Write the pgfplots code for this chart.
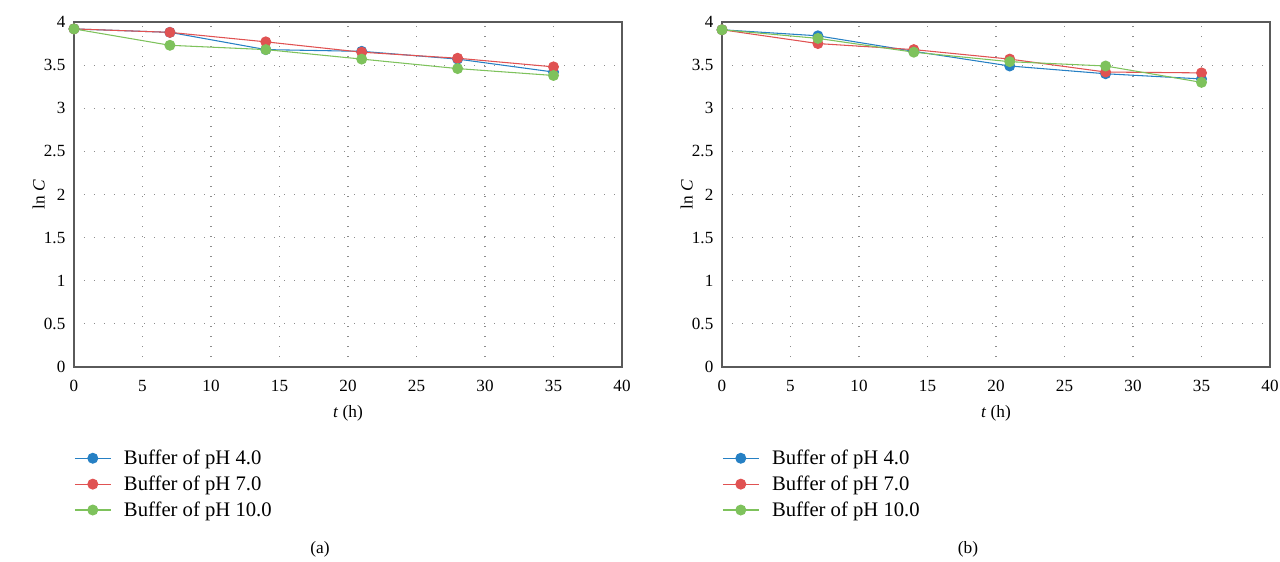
\documentclass[border=0pt]{standalone}
\usepackage{fontspec}
\setmainfont{Liberation Serif}
\usepackage{pgfplots}
\pgfplotsset{compat=1.18}
\definecolor{cblue}{RGB}{38,128,196}
\definecolor{cred}{RGB}{224,82,82}
\definecolor{cgreen}{RGB}{126,194,92}
\definecolor{axgray}{RGB}{90,90,90}
\pgfplotsset{
  panel/.style={
    scale only axis, width=411pt, height=258.75pt,
    xmin=0, xmax=40, ymin=0, ymax=4,
    xtick={0,5,...,40}, ytick={0,0.5,...,4},
    yticklabels={0,0.5,1,1.5,2,2.5,3,3.5,4},
    grid=major,
    major grid style={line width=0.8pt, gray!90, dash pattern=on 0.8pt off 6.7pt},
    axis line style={axgray, line width=0.9pt},
    major tick length=0pt,
    tick label style={font=\fontsize{12.8}{14}\selectfont},
    xticklabel style={yshift=-6.5pt},
    yticklabel style={xshift=-3pt},
    /pgf/number format/assume math mode=true,
    xlabel={\textit{t} (h)},
    ylabel={ln \textit{C}},
    label style={font=\fontsize{13}{15}\selectfont},
    xlabel style={yshift=-3pt},
    ylabel style={yshift=-7.5pt},
    legend cell align=left,
    legend style={at={(0,-0.232)}, anchor=north west, draw=none, fill=none,
      font=\fontsize{15.5}{17}\selectfont, row sep=3pt, column sep=7.5pt, inner sep=0pt},
    legend image code/.code={\draw[mark repeat=2,mark phase=2,#1] plot coordinates {(0pt,0pt) (13.5pt,0pt) (27pt,0pt)};},
    every axis plot/.append style={line width=0.8pt, mark=*, mark size=3.7pt},
  }
}
\begin{document}
\begin{tikzpicture}
\useasboundingbox (-55.5pt,-145.5pt) rectangle (904.5pt,275.25pt);
\begin{axis}[panel]
\addplot[cblue, mark options={fill=cblue, draw=cblue}] coordinates {(0,3.92) (7,3.88) (14,3.68) (21,3.66) (28,3.57) (35,3.42)};
\addplot[cred, mark options={fill=cred, draw=cred}] coordinates {(0,3.92) (7,3.88) (14,3.77) (21,3.65) (28,3.58) (35,3.48)};
\addplot[cgreen, mark options={fill=cgreen, draw=cgreen}] coordinates {(0,3.92) (7,3.73) (14,3.68) (21,3.57) (28,3.46) (35,3.38)};
\legend{Buffer of pH 4.0, Buffer of pH 7.0, Buffer of pH 10.0}
\end{axis}
\begin{axis}[panel, at={(486pt,0pt)}]
\addplot[cblue, mark options={fill=cblue, draw=cblue}] coordinates {(0,3.91) (7,3.84) (14,3.66) (21,3.49) (28,3.40) (35,3.34)};
\addplot[cred, mark options={fill=cred, draw=cred}] coordinates {(0,3.91) (7,3.75) (14,3.68) (21,3.57) (28,3.42) (35,3.41)};
\addplot[cgreen, mark options={fill=cgreen, draw=cgreen}] coordinates {(0,3.91) (7,3.81) (14,3.65) (21,3.54) (28,3.49) (35,3.30)};
\legend{Buffer of pH 4.0, Buffer of pH 7.0, Buffer of pH 10.0}
\end{axis}
\node[font=\fontsize{13}{15}\selectfont] at (184.5pt,-137pt) {(a)};
\node[font=\fontsize{13}{15}\selectfont] at (670.5pt,-137pt) {(b)};
\end{tikzpicture}
\end{document}
